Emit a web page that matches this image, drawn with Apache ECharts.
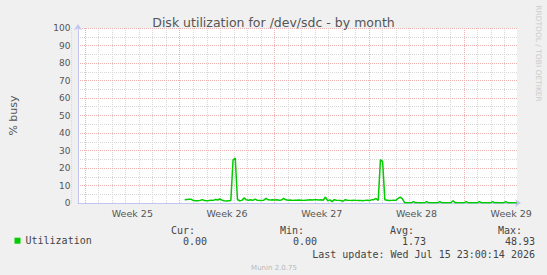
<!DOCTYPE html>
<html><head><meta charset="utf-8">
<script src="https://cdn.jsdelivr.net/npm/echarts@6/dist/echarts.min.js"></script>
<style>html,body{margin:0;padding:0;background:#f0f0f0}#c{width:547px;height:275px}</style>
</head><body><div id="c"></div>
<script>
// ---- data ----
const titleText = 'Disk utilization for /dev/sdc - by month';
const yAxisName = '% busy';
const weekLabels = ['Week 25', 'Week 26', 'Week 27', 'Week 28', 'Week 29'];
// time axis in days since Monday 00:00 of Week 25
const viewStartDay = -1.33;
const viewEndDay = 31.93;
const busyStartDay = 6.75;      // first sample
const busyStepDays = 1 / 6;     // 4-hour samples
const busyValues = [
  1.9, 2.0, 2.1, 2.1, 1.4, 1.3, 1.3, 1.5, 1.9, 1.4, 1.3, 1.4,
  1.6, 1.5, 2.0, 1.7, 2.3, 1.6, 1.3, 1.2, 1.3, 1.4, 24.6, 25.7,
  2.0, 1.3, 1.5, 2.9, 1.8, 1.6, 1.9, 1.5, 2.2, 1.6, 1.5, 1.5,
  1.6, 2.6, 1.8, 1.7, 1.8, 1.7, 1.8, 1.6, 1.7, 2.6, 1.8, 1.6,
  1.7, 1.5, 1.6, 1.6, 1.7, 1.6, 1.5, 1.6, 1.7, 1.8, 1.7, 1.8,
  1.9, 1.7, 1.8, 1.6, 3.4, 1.3, 1.8, 0.8, 1.9, 1.6, 1.5, 1.4,
  1.0, 1.9, 1.6, 1.5, 1.4, 1.6, 1.5, 1.4, 1.5, 1.3, 1.5, 1.6,
  1.4, 1.8, 1.9, 2.6, 1.4, 24.8, 23.6, 1.8, 1.6, 1.4, 1.5, 1.6,
  1.5, 2.6, 3.3, 2.4, 0.2, 0.1, 0.1, 0.1, 0.8, 0.1, 0.1, 0.1,
  0.1, 0.1, 0.8, 0.1, 0.1, 0.1, 0.1, 0.1, 0.8, 0.1, 0.1, 0.1,
  0.1, 0.1, 1.3, 0.1, 0.1, 0.1, 0.1, 0.1, 0.8, 0.1, 0.1, 0.1,
  0.1, 0.1, 0.8, 0.1, 0.1, 0.1, 0.1, 0.1, 0.8, 0.1, 0.1, 0.1,
  0.1, 0.1, 0.8, 0.1, 0.1, 0.1, 0.1, 0.0
];
const legendName = 'Utilization';
const statHeaders = ['Cur:', 'Min:', 'Avg:', 'Max:'];
const statValues = ['0.00', '0.00', '1.73', '48.93'];
const lastUpdateText = 'Last update: Wed Jul 15 23:00:14 2026';
const footerText = 'Munin 2.0.75';
const watermarkText = 'RRDTOOL / TOBI OETIKER';

// ---- layout ----
const plotLeft = 67, plotTop = 28, plotW = 450, plotH = 175;
const pxPerDay = plotW / (viewEndDay - viewStartDay);
const firstMidnight = Math.ceil(viewStartDay);
const xAt = d => plotLeft + (d - viewStartDay) * pxPerDay;

const RED = '#eeb0b0', GREY = '#d8d8d8', AXIS = '#c4c4f2', TXT = '#555';
const sansFont = 'DejaVu Sans';
const monoFont = 'DejaVu Sans Mono';

const hiddenY = gi => ({ gridIndex: gi, type: 'value', min: 0, max: 100, show: false });
const noAxisBits = { axisLine: { show: false }, axisTick: { show: false }, axisLabel: { show: false } };

const statHeaderRight = [195, 304, 414, 522];
const statValueRight = [207, 317, 426, 535];

const graphics = [];
statHeaders.forEach((t, i) => graphics.push({ type: 'text', x: statHeaderRight[i], y: 230,
  style: { text: t, font: '10px "' + monoFont + '"', fill: '#444', textAlign: 'right', textVerticalAlign: 'middle' } }));
statValues.forEach((t, i) => graphics.push({ type: 'text', x: statValueRight[i], y: 241.6,
  style: { text: t, font: '10px "' + monoFont + '"', fill: '#444', textAlign: 'right', textVerticalAlign: 'middle' } }));
graphics.push({ type: 'text', x: 535, y: 254,
  style: { text: lastUpdateText, font: '10px "' + monoFont + '"', fill: '#444', textAlign: 'right', textVerticalAlign: 'middle' } });
graphics.push({ type: 'text', x: 274, y: 267.6,
  style: { text: footerText, font: '7px "' + sansFont + '"', fill: '#b8b8b8', textAlign: 'center', textVerticalAlign: 'middle' } });
graphics.push({ type: 'text', x: 538.3, y: 53.5, rotation: -Math.PI / 2,
  style: { text: watermarkText, font: '7.5px "' + sansFont + '"', fill: '#cccccc', textAlign: 'center', textVerticalAlign: 'middle' } });

const option = {
  backgroundColor: '#f0f0f0',
  animation: false,
  title: { text: titleText, left: 'center', top: 11,
    textStyle: { fontFamily: sansFont, fontSize: 12.5, fontWeight: 'normal', color: TXT } },
  legend: { data: [legendName], left: 14.5, top: 235.7, padding: 0, icon: 'rect', itemWidth: 6, itemHeight: 6,
    textStyle: { fontFamily: monoFont, fontSize: 10, color: '#444' } },
  grid: [
    { left: plotLeft, top: plotTop, width: plotW, height: plotH, show: true, backgroundColor: '#ffffff', borderWidth: 0, z: -1 },
    { left: xAt(firstMidnight), top: plotTop, width: (viewEndDay - firstMidnight) * pxPerDay, height: plotH },
    { left: xAt(0), top: plotTop, width: viewEndDay * pxPerDay, height: plotH },
    { left: xAt(3.5), top: plotTop, width: (viewEndDay - 3.5) * pxPerDay, height: plotH }
  ],
  xAxis: [
    { gridIndex: 0, type: 'value', min: viewStartDay, max: viewEndDay, z: 3,
      axisLine: { show: true, onZero: false, lineStyle: { color: AXIS, width: 1 }, symbol: ['none', 'arrow'], symbolSize: [6, 6], symbolOffset: [0, 4] },
      axisTick: { show: false }, axisLabel: { show: false }, splitLine: { show: false } },
    Object.assign({ gridIndex: 1, type: 'value', min: firstMidnight, max: viewEndDay, interval: 1,
      splitLine: { show: true, showMinLine: true, showMaxLine: false, lineStyle: { color: GREY, type: [1, 1], width: 1 } } }, noAxisBits),
    Object.assign({ gridIndex: 2, type: 'value', min: 0, max: viewEndDay, interval: 7,
      splitLine: { show: true, showMinLine: true, showMaxLine: false, lineStyle: { color: RED, type: [1, 1], width: 1 } } }, noAxisBits),
    { gridIndex: 3, type: 'value', min: 0, max: viewEndDay - 3.5, interval: 7,
      axisLine: { show: false }, axisTick: { show: false }, splitLine: { show: false },
      axisLabel: { show: true, margin: 5, color: TXT, fontFamily: sansFont, fontSize: 9.5,
        formatter: v => { const k = v / 7; return Math.abs(k - Math.round(k)) < 1e-6 ? (weekLabels[Math.round(k)] || '') : ''; } } }
  ],
  yAxis: [
    { gridIndex: 0, type: 'value', min: 0, max: 100, interval: 10, z: 3,
      name: yAxisName, nameLocation: 'middle', nameGap: 59, nameRotate: 90,
      nameTextStyle: { fontFamily: sansFont, fontSize: 11, color: TXT },
      axisLine: { show: true, onZero: false, lineStyle: { color: AXIS, width: 1 }, symbol: ['none', 'arrow'], symbolSize: [6, 6], symbolOffset: [0, 4] },
      axisTick: { show: false },
      axisLabel: { margin: 7.5, color: TXT, fontFamily: sansFont, fontSize: 9 },
      splitLine: { show: true, showMinLine: false, lineStyle: { color: RED, type: [1, 1], width: 1 } },
      minorTick: { show: false, splitNumber: 2 },
      minorSplitLine: { show: true, lineStyle: { color: GREY, type: [1, 1], width: 1 } } },
    hiddenY(1), hiddenY(2), hiddenY(3)
  ],
  series: [{
    name: legendName, type: 'line', xAxisIndex: 0, yAxisIndex: 0, z: 5,
    showSymbol: false, symbol: 'none',
    data: busyValues.map((v, i) => [busyStartDay + i * busyStepDays, v]),
    lineStyle: { color: '#00cc00', width: 1.5 },
    itemStyle: { color: '#00cc00' }
  }],
  graphic: graphics
};

const chart = echarts.init(document.getElementById('c'), null, { renderer: 'svg', width: 547, height: 275 });
chart.setOption(option);
</script>
</body></html>
